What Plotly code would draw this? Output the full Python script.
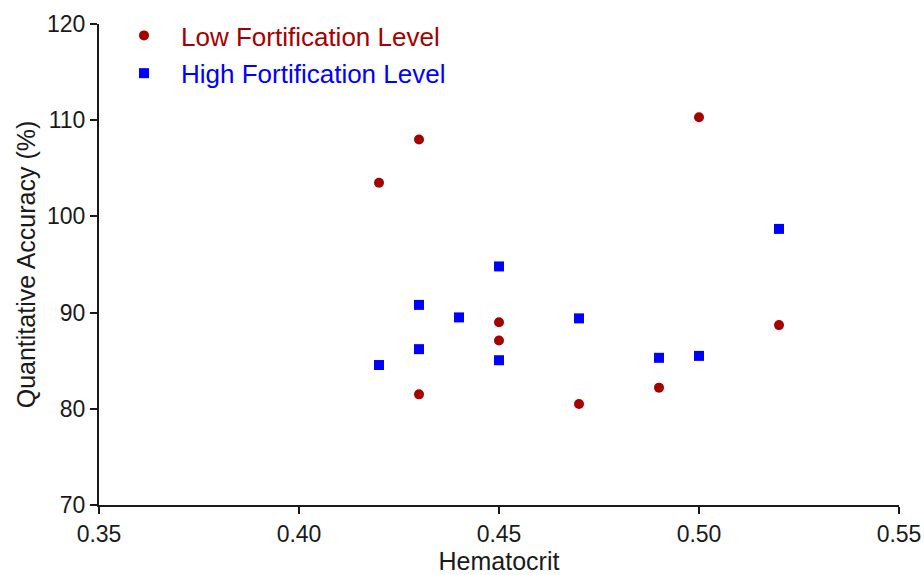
import plotly.graph_objects as go

low_x = [0.42, 0.43, 0.43, 0.45, 0.45, 0.47, 0.49, 0.50, 0.52]
low_y = [103.5, 108.0, 81.5, 89.0, 87.1, 80.5, 82.2, 110.3, 88.7]
high_x = [0.42, 0.43, 0.43, 0.44, 0.45, 0.45, 0.47, 0.49, 0.50, 0.52]
high_y = [84.55, 90.8, 86.2, 89.5, 94.8, 85.05, 89.4, 85.3, 85.5, 98.7]

x_ticks = [0.35, 0.40, 0.45, 0.50, 0.55]
y_ticks = [70, 80, 90, 100, 110, 120]

RED = "#a50000"
BLUE = "#0000ff"
FONT = "Liberation Sans, Arial, sans-serif"

fig = go.Figure()
fig.add_trace(go.Scatter(
    x=low_x, y=low_y, mode="markers",
    name=f"<span style='color:{RED}'>Low Fortification Level</span>",
    legendgroup="low",
    marker=dict(symbol="circle", size=10, color=RED, line=dict(width=0)),
))
fig.add_trace(go.Scatter(
    x=high_x, y=high_y, mode="markers",
    name=f"<span style='color:{BLUE}'>High Fortification Level</span>",
    legendgroup="high",
    marker=dict(symbol="square", size=10, color=BLUE, line=dict(width=0)),
))

fig.update_layout(
    width=924, height=575,
    margin=dict(l=99, r=25, t=24, b=70, autoexpand=False),
    paper_bgcolor="white", plot_bgcolor="white",
    font=dict(family=FONT, color="#1a1a1a", size=23),
    showlegend=True,
    legend=dict(
        x=0.01, y=1.025, xanchor="left", yanchor="top",
        bgcolor="rgba(0,0,0,0)", borderwidth=0,
        font=dict(family=FONT, size=26),
        tracegroupgap=1, itemwidth=64,
    ),
)
fig.update_xaxes(
    range=[0.35, 0.55], tickvals=x_ticks,
    ticktext=[f"{v:.2f}" for v in x_ticks],
    showgrid=False, zeroline=False, automargin=False,
    showline=True, linecolor="#1a1a1a", linewidth=2,
    ticks="outside", ticklen=7, tickwidth=2, tickcolor="#1a1a1a",
    tickfont=dict(size=23),
    title=dict(text="Hematocrit", font=dict(size=25), standoff=10),
)
fig.update_yaxes(
    range=[70, 120], tickvals=y_ticks,
    showgrid=False, zeroline=False, automargin=False,
    showline=True, linecolor="#1a1a1a", linewidth=2,
    ticks="outside", ticklen=7, tickwidth=2, tickcolor="#1a1a1a",
    tickfont=dict(size=23),
    title=dict(text="Quantitative Accuracy (%)", font=dict(size=25), standoff=4),
)

fig.write_html("out.html")
